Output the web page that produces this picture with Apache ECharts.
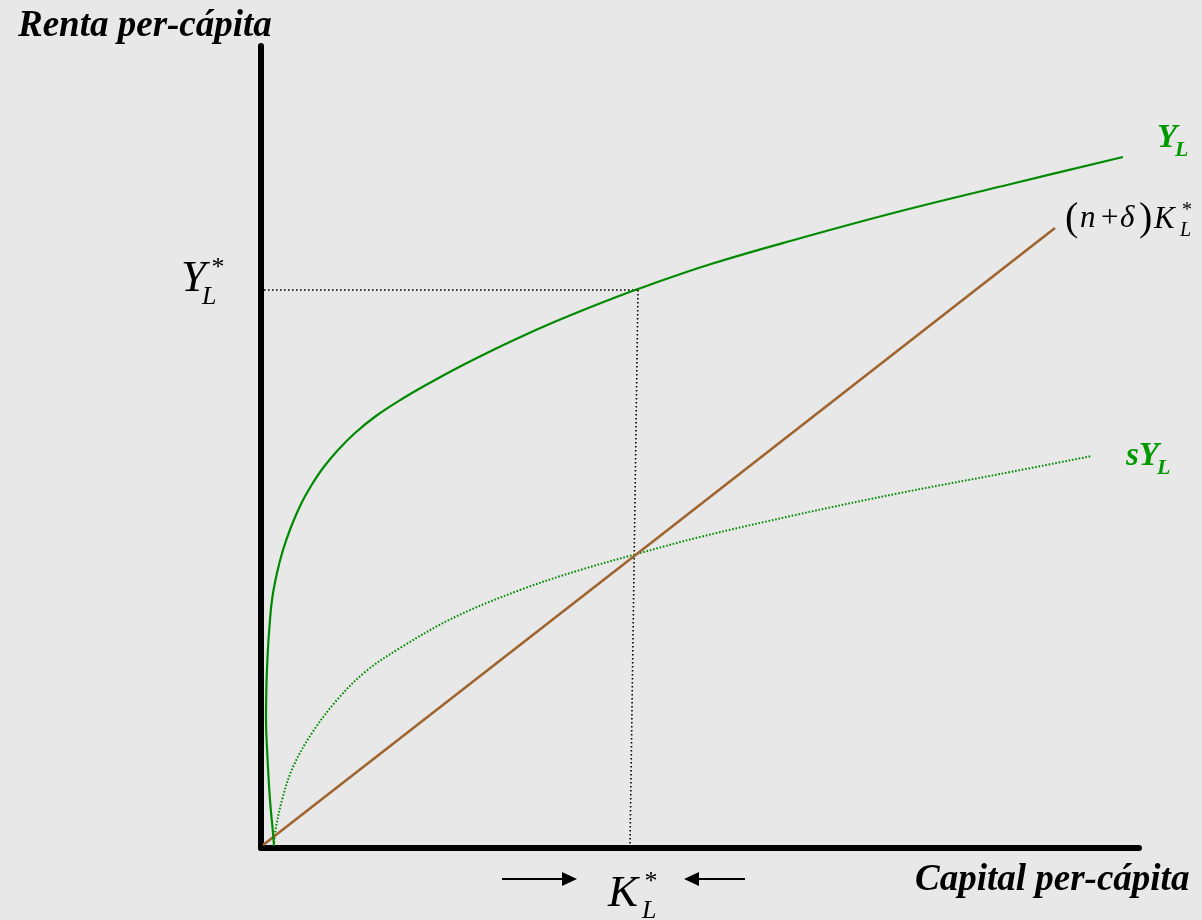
<!DOCTYPE html>
<html>
<head>
<meta charset="utf-8">
<script src="https://cdn.jsdelivr.net/npm/echarts@6/dist/echarts.min.js"></script>
<style>
html,body{margin:0;padding:0;background:#e8e8e8;}
#chart{width:1202px;height:920px;}
</style>
</head>
<body>
<div id="chart"></div>
<script>
// Data (chart units: capital per capita on x, income per capita on y)
var outputCurve = [[13,2],[12,15],[9,48],[6.5,90],[5,130],[5.5,165],[6.5,190],[8,215],[11,248],[16,275],[22,298],[30,321],[40,344],[50,362],[62,380],[77,398],[94,415],[115,432],[141,449],[170,465.8],[200,482],[230,497.1],[259,510.8],[288,523.7],[318,536.2],[347,547.7],[377,559],[450,584],[540,610],[640,637],[750,664],[862,691]];
var savingCurve = [[13,2],[14,15],[21,48],[32,81],[51,115],[76,148],[104,176],[139,200],[194,231],[259,258],[319,278],[372,293],[439,311],[539,334],[639,355],[739,374],[831,392]];
var depreciationLine = [[2,3],[372,291],[794,620]];
var steadyOutputGuide = [[-9,558],[377,558]];
var steadyCapitalGuide = [[377,558],[369,0]];
var axisTitles = ['Renta per-cápita','Capital per-cápita'];

var GREEN = '#008a00', LABEL_GREEN = '#009a00', BROWN = '#a0652f';
var SERIF = '"Liberation Serif","DejaVu Serif",serif';

var chart = echarts.init(document.getElementById('chart'));

function txt(x, y, s, size, opts) {
  opts = opts || {};
  return {
    type: 'text', x: x, y: y, silent: true,
    style: {
      text: s, fontFamily: SERIF, fontSize: size,
      fontStyle: opts.italic === false ? 'normal' : 'italic',
      fontWeight: opts.bold ? 'bold' : 'normal',
      fill: opts.color || '#000',
      align: opts.align || 'left', verticalAlign: 'middle'
    }
  };
}

var graphics = [
  txt(18, 26, axisTitles[0], 37, {bold: true}),
  txt(915, 880, axisTitles[1], 37, {bold: true}),
  // Y*_L
  txt(181, 279, 'Y', 45),
  txt(218, 268, '*', 26, {italic: false, align: 'center'}),
  txt(202, 297, 'L', 26),
  // K*_L
  txt(608, 894, 'K', 45),
  txt(651, 882, '*', 26, {italic: false, align: 'center'}),
  txt(642, 911, 'L', 26),
  // Y_L
  txt(1157, 138, 'Y', 33, {bold: true, color: LABEL_GREEN}),
  txt(1175, 150, 'L', 22, {bold: true, color: LABEL_GREEN}),
  // sY_L
  txt(1126, 456, 'sY', 33, {bold: true, color: LABEL_GREEN}),
  txt(1157, 468, 'L', 22, {bold: true, color: LABEL_GREEN}),
  // (n+δ)K*_L
  txt(1065, 219, '(', 40, {italic: false}),
  txt(1080, 219, 'n', 31),
  txt(1101, 219, '+', 31, {italic: false}),
  txt(1120, 219, 'δ', 31),
  txt(1139, 219, ')', 40, {italic: false}),
  txt(1154, 220, 'K', 31),
  txt(1187, 211, '*', 20, {italic: false, align: 'center'}),
  txt(1180, 231, 'L', 20),
  // arrows
  {type: 'line', silent: true, shape: {x1: 502, y1: 879, x2: 564, y2: 879}, style: {stroke: '#000', lineWidth: 2}},
  {type: 'polygon', silent: true, shape: {points: [[562, 872], [577, 879], [562, 886]]}, style: {fill: '#000'}},
  {type: 'line', silent: true, shape: {x1: 697, y1: 879, x2: 745, y2: 879}, style: {stroke: '#000', lineWidth: 2}},
  {type: 'polygon', silent: true, shape: {points: [[699, 872], [684, 879], [699, 886]]}, style: {fill: '#000'}}
];

var option = {
  backgroundColor: '#e8e8e8',
  animation: false,
  grid: {left: 261, top: 46, right: 63, bottom: 72, containLabel: false},
  xAxis: {
    type: 'value', min: 0, max: 878,
    axisLine: {show: true, onZero: false, lineStyle: {color: '#000', width: 6}},
    axisTick: {show: false}, axisLabel: {show: false}, splitLine: {show: false}
  },
  yAxis: {
    type: 'value', min: 0, max: 802,
    axisLine: {show: true, onZero: false, lineStyle: {color: '#000', width: 6}},
    axisTick: {show: false}, axisLabel: {show: false}, splitLine: {show: false}
  },
  series: [
    {type: 'line', data: steadyOutputGuide, symbol: 'none', clip: false, silent: true,
     lineStyle: {color: '#000', width: 1.6, type: [1.6, 2.4]}, z: 1},
    {type: 'line', data: steadyCapitalGuide, symbol: 'none', clip: false, silent: true,
     lineStyle: {color: '#000', width: 1.6, type: [1.6, 2.4]}, z: 1},
    {type: 'line', data: savingCurve, symbol: 'none', smooth: 0.35, clip: false, silent: true,
     lineStyle: {color: GREEN, width: 2, type: [1.6, 1.8]}, z: 2},
    {type: 'line', data: depreciationLine, symbol: 'none', clip: false, silent: true,
     lineStyle: {color: BROWN, width: 2.6}, z: 3},
    {type: 'line', data: outputCurve, symbol: 'none', smooth: 0.4, clip: false, silent: true,
     lineStyle: {color: GREEN, width: 2.2}, z: 4}
  ],
  graphic: graphics
};
chart.setOption(option);
</script>
</body>
</html>
